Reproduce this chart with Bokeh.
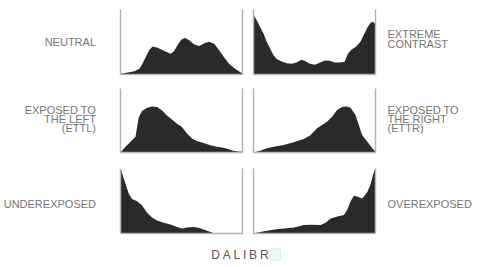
from bokeh.plotting import figure
from bokeh.layouts import row, column
from bokeh.models import Range1d, LinearAxis, BoxAnnotation, ColumnDataSource
from bokeh.core.properties import value
from bokeh.embed import file_html
from bokeh.resources import INLINE

# ---- data (tone 0-100 %, relative count 0-100) ----
neutral_x = [0, 0.5, 6, 11.4, 15.5, 18, 21, 23.7, 26.4, 30.5, 36, 41, 44, 47, 50, 53, 56,
             60.5, 64.6, 68.7, 72.8, 77, 81, 85, 89, 93, 97, 100]
neutral_y = [0.5, 1, 3, 5, 9, 16.5, 28, 38, 43, 41, 36, 32, 36, 46, 54, 56, 53,
             46, 44, 48, 50.5, 47, 37, 26, 16.5, 10, 5, 1.5]

contrast_x = [0, 0.5, 2.7, 5.4, 8.2, 10.9, 13.6, 16.3, 19, 23.1, 27.2, 31.3, 35.3, 39.4, 42.1,
              46.2, 50.3, 54.3, 58.4, 62.5, 66.6, 70.7, 74.7, 77.4, 80.2, 84.2, 87.5, 90.2,
              92.9, 95.7, 97.8, 99.2, 100]
contrast_y = [90, 90, 83.5, 73, 63, 50, 40, 30, 24, 20, 17.5, 16.5, 18.5, 22.7, 20.6,
              16.5, 15, 18, 21.6, 21, 18.5, 18.5, 19.6, 32, 38, 43, 50, 60,
              70.6, 79, 81.5, 79, 75.8]

ettl_x = [0, 0.5, 4.1, 8.2, 12.3, 13.6, 15, 17.7, 21.8, 25.9, 30, 34.1, 38.1, 42.2, 46.3,
          50.4, 54.5, 58.6, 62.7, 68.1, 73.6, 79, 84.5, 88.6, 92.6, 96.7, 100]
ettl_y = [0.5, 1, 9, 16.7, 24.5, 40, 55, 65, 70, 72, 71, 65.6, 58, 51.5, 45,
          40, 29.7, 22, 18, 15, 11.5, 8.9, 7.3, 5.2, 2.6, 1.6, 1]

ettr_x = [0, 0.5, 5.5, 11, 16.4, 24.7, 32.9, 41.1, 46.6, 52.1, 56.2, 60.3, 64.4, 68.5,
          72.6, 76.7, 79.5, 83.6, 86.3, 89, 93.2, 97.3, 100]
ettr_y = [0.3, 0.5, 2.6, 6.7, 8.8, 11.9, 16, 21, 27, 38, 43, 48, 56, 66.3,
          71, 72, 70, 58.5, 43, 27.5, 17, 6.7, 1.5]

under_x = [0, 1.4, 4.1, 6.8, 9.5, 13.6, 17.7, 21.8, 25.9, 30, 35.4, 40.9, 46.3, 50.4,
           54.5, 59.9, 64, 68.1, 72.2, 74.9, 76.3, 100]
under_y = [100, 92, 76.5, 61, 53, 49.5, 43, 32, 24.5, 20, 16.7, 14, 10, 7.8,
           9.4, 10, 8.9, 6.3, 3.6, 1.6, 0, 0]

over_x = [0, 0.5, 8.7, 16.9, 25.1, 33.2, 41.4, 46.9, 55, 59.1, 63.2, 68.7, 74.1, 76.8,
          79.6, 82.3, 85, 89.1, 93.2, 95.9, 98.1, 99.5, 100]
over_y = [0.3, 0.5, 3.6, 6.3, 7.8, 9.4, 13, 13.5, 13, 16.7, 23, 26, 28.6, 36.5,
          49.5, 58, 57, 54, 63.5, 75.5, 91, 99, 100]

left_labels = [["NEUTRAL"], ["EXPOSED TO", "THE LEFT", "(ETTL)"], ["UNDEREXPOSED"]]
right_labels = [["EXTREME", "CONTRAST"], ["EXPOSED TO", "THE RIGHT", "(ETTR)"], ["OVEREXPOSED"]]
logo_letters = ["D", "A", "L", "I", "B", "R"]

FILL = "#2a2a2a"
FRAME = "#b4b4b4"
TXT = "#767676"
FONT = "Liberation Sans"

# row geometry: (block height, top border, frame height, bottom border)
rows_geo = [(84, 9, 65, 10), (76, 4, 64, 8), (80, 8, 65, 7)]
# label line positions (pixels from block top)
left_ys = [[41.7], [26, 36.2, 46.5], [44]]
right_ys = [[32, 44], [26, 36.2, 46.5], [44]]


def hist_fig(xs, ys, geo, bl, br):
    h, bt, fh, bb = geo
    p = figure(width=bl + 122 + br, height=h, x_range=Range1d(0, 100), y_range=Range1d(0, 100),
               toolbar_location=None, output_backend="svg",
               min_border_left=bl, min_border_right=br, min_border_top=bt, min_border_bottom=bb)
    p.add_layout(LinearAxis(), "right")
    for ax in p.axis:
        ax.ticker = []
        ax.major_tick_line_color = None
        ax.minor_tick_line_color = None
        ax.major_label_text_font_size = "0px"
        ax.major_label_standoff = 0
        ax.axis_line_color = FRAME
        ax.axis_line_width = 1.5
    p.grid.visible = False
    p.outline_line_color = None
    p.varea(x=xs, y1=0, y2=ys, fill_color=FILL)
    return p


def text_fig(w, h):
    # data space == pixel space (y measured from the top)
    p = figure(width=w, height=h, toolbar_location=None, output_backend="svg",
               x_axis_type=None, y_axis_type=None, min_border=0,
               x_range=Range1d(0, w), y_range=Range1d(h, 0))
    p.grid.visible = False
    p.outline_line_color = None
    return p


def label_fig(lines, ys, geo, w, x, align):
    h = geo[0]
    p = text_fig(w, h)
    src = ColumnDataSource(dict(x=[x] * len(lines), y=ys, t=lines))
    p.text(x="x", y="y", text="t", source=src, text_align=align, text_baseline="middle",
           text_font=value(FONT), text_font_size="11px", text_color=TXT)
    return p


series = [((neutral_x, neutral_y), (contrast_x, contrast_y)),
          ((ettl_x, ettl_y), (ettr_x, ettr_y)),
          ((under_x, under_y), (over_x, over_y))]

rows = []
for i, ((lx, ly), (rx, ry)) in enumerate(series):
    geo = rows_geo[i]
    lf = label_fig(left_labels[i], left_ys[i], geo, 117, 95.5, "right")
    hl = hist_fig(lx, ly, geo, 3, 5)
    hr = hist_fig(rx, ry, geo, 6, 3)
    rf = label_fig(right_labels[i], right_ys[i], geo, 97, 9, "left")
    rows.append(row(lf, hl, hr, rf, spacing=0))

# logo (page y 240 .. 264)
lh = 24
logo = text_fig(475, lh)
widths = [8.7, 8.0, 6.7, 3.3, 8.0]
lx = [210.7]
for wd in widths:
    lx.append(lx[-1] + wd + 2.8)
logo.text(x=lx, y=[14] * 6, text=logo_letters, text_align="left", text_baseline="middle",
          text_font=value(FONT), text_font_size="12px", text_color="#555555")
logo.add_layout(BoxAnnotation(left=269, right=280, top=lh - 8, bottom=lh - 20,
                              left_units="screen", right_units="screen",
                              top_units="screen", bottom_units="screen",
                              fill_color="#eef8fb", fill_alpha=1.0,
                              line_color="#9fd3e6", line_width=1.2, border_radius=3))

layout = column(*rows, logo, spacing=0)

open("out.html", "w").write(file_html(layout, INLINE))
